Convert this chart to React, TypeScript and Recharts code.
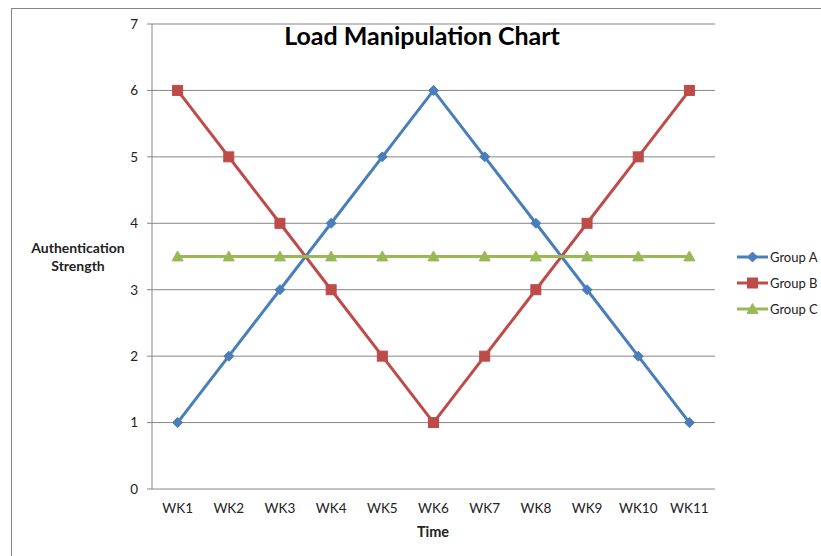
import React from "react";
import { LineChart, Line, XAxis, YAxis, CartesianGrid } from "recharts";

const weeks = ["WK1", "WK2", "WK3", "WK4", "WK5", "WK6", "WK7", "WK8", "WK9", "WK10", "WK11"];
const groupA = [1, 2, 3, 4, 5, 6, 5, 4, 3, 2, 1];
const groupB = [6, 5, 4, 3, 2, 1, 2, 3, 4, 5, 6];
const groupC = [3.5, 3.5, 3.5, 3.5, 3.5, 3.5, 3.5, 3.5, 3.5, 3.5, 3.5];
const yTicks = [0, 1, 2, 3, 4, 5, 6, 7];
const seriesNames = ["Group A", "Group B", "Group C"];

const COLORS = { A: "#4A7EBB", B: "#BE4B48", C: "#98B954" };
const FONT = "Lato, 'Open Sans', sans-serif";
const GRAY = "#868686";

const data = weeks.map((w, i) => ({ x: i + 1, week: w, A: groupA[i], B: groupB[i], C: groupC[i] }));
const centerTicks = weeks.map((_, i) => i + 1);
const boundaryTicks = [...weeks.map((_, i) => i + 0.5), weeks.length + 0.5];

const Diamond = ({ cx, cy, color, r = 5 }: any) => (
  <polygon points={`${cx},${cy - r} ${cx + r},${cy} ${cx},${cy + r} ${cx - r},${cy}`} fill={color} stroke={color} />
);
const Square = ({ cx, cy, color, s = 10 }: any) => (
  <rect x={cx - s / 2} y={cy - s / 2} width={s} height={s} fill={color} stroke={color} />
);
const Triangle = ({ cx, cy, color, r = 5.5 }: any) => (
  <polygon points={`${cx},${cy - r} ${cx + r},${cy + r * 0.8} ${cx - r},${cy + r * 0.8}`} fill={color} stroke={color} />
);

const dotA = (p: any) => <Diamond key={`a${p.index}`} cx={p.cx} cy={p.cy} color={COLORS.A} />;
const dotB = (p: any) => <Square key={`b${p.index}`} cx={p.cx} cy={p.cy} color={COLORS.B} />;
const dotC = (p: any) => <Triangle key={`c${p.index}`} cx={p.cx} cy={p.cy} color={COLORS.C} />;

const LegendBox = () => {
  const items = [
    { name: seriesNames[0], color: COLORS.A, M: Diamond },
    { name: seriesNames[1], color: COLORS.B, M: Square },
    { name: seriesNames[2], color: COLORS.C, M: Triangle },
  ];
  return (
    <svg width={90} height={80}>
      {items.map((it, i) => {
        const y = 9 + i * 26;
        const M = it.M;
        return (
          <g key={it.name}>
            <line x1={2} x2={33} y1={y} y2={y} stroke={it.color} strokeWidth={3} />
            <M cx={17.5} cy={y} color={it.color} />
            <text x={35} y={y} dy="0.35em" fontSize={13} fontFamily={FONT} fill="#222">
              {it.name}
            </text>
          </g>
        );
      })}
    </svg>
  );
};

export default function App() {
  return (
    <div style={{ position: "absolute", left: 0, top: 0, width: 821, height: 556, overflow: "hidden", background: "#fff" }}>
      <div style={{ position: "absolute", left: 11, top: 8, width: 900, height: 600, border: `1px solid ${GRAY}` }} />
      <div style={{ position: "absolute", left: 0, top: 0 }}>
        <LineChart width={821} height={556} data={data} margin={{ top: 24, right: 106, bottom: 0, left: 0 }}>
          <CartesianGrid vertical={false} stroke={GRAY} strokeWidth={1} />
          <XAxis
            xAxisId="bounds"
            dataKey="x"
            type="number"
            domain={[0.5, weeks.length + 0.5]}
            ticks={boundaryTicks}
            height={0}
            stroke={GRAY}
            tickSize={5}
            tickFormatter={() => ""}
          />
          <XAxis
            xAxisId="labels"
            dataKey="x"
            type="number"
            domain={[0.5, weeks.length + 0.5]}
            ticks={centerTicks}
            height={67}
            axisLine={false}
            tickLine={false}
            tickSize={0}
            tickMargin={14}
            tickFormatter={(v: number) => weeks[v - 1]}
            tick={{ fontSize: 13.5, fontFamily: FONT, fill: "#222" }}
          />
          <YAxis
            domain={[0, 7]}
            ticks={yTicks}
            width={152}
            stroke={GRAY}
            tickSize={5}
            tickMargin={9}
            tick={{ fontSize: 13.5, fontFamily: FONT, fill: "#222" }}
          />
          <Line xAxisId="labels" dataKey="A" name={seriesNames[0]} stroke={COLORS.A} strokeWidth={3} dot={dotA} isAnimationActive={false} />
          <Line xAxisId="labels" dataKey="B" name={seriesNames[1]} stroke={COLORS.B} strokeWidth={3} dot={dotB} isAnimationActive={false} />
          <Line xAxisId="labels" dataKey="C" name={seriesNames[2]} stroke={COLORS.C} strokeWidth={3} dot={dotC} isAnimationActive={false} />
        </LineChart>
      </div>
      <div style={{ position: "absolute", left: 735, top: 248 }}>
        <LegendBox />
      </div>
      <div style={{ position: "absolute", left: 222, top: 20, width: 400, textAlign: "center", fontFamily: FONT, fontWeight: 700, fontSize: 25, color: "#000" }}>
        Load Manipulation Chart
      </div>
      <div style={{ position: "absolute", left: 18, top: 239, width: 120, textAlign: "center", fontFamily: FONT, fontWeight: 700, fontSize: 14, lineHeight: "18px", color: "#222" }}>
        Authentication
        <br />
        Strength
      </div>
      <div style={{ position: "absolute", left: 383, top: 523, width: 100, textAlign: "center", fontFamily: FONT, fontWeight: 700, fontSize: 14.5, color: "#222" }}>
        Time
      </div>
    </div>
  );
}
